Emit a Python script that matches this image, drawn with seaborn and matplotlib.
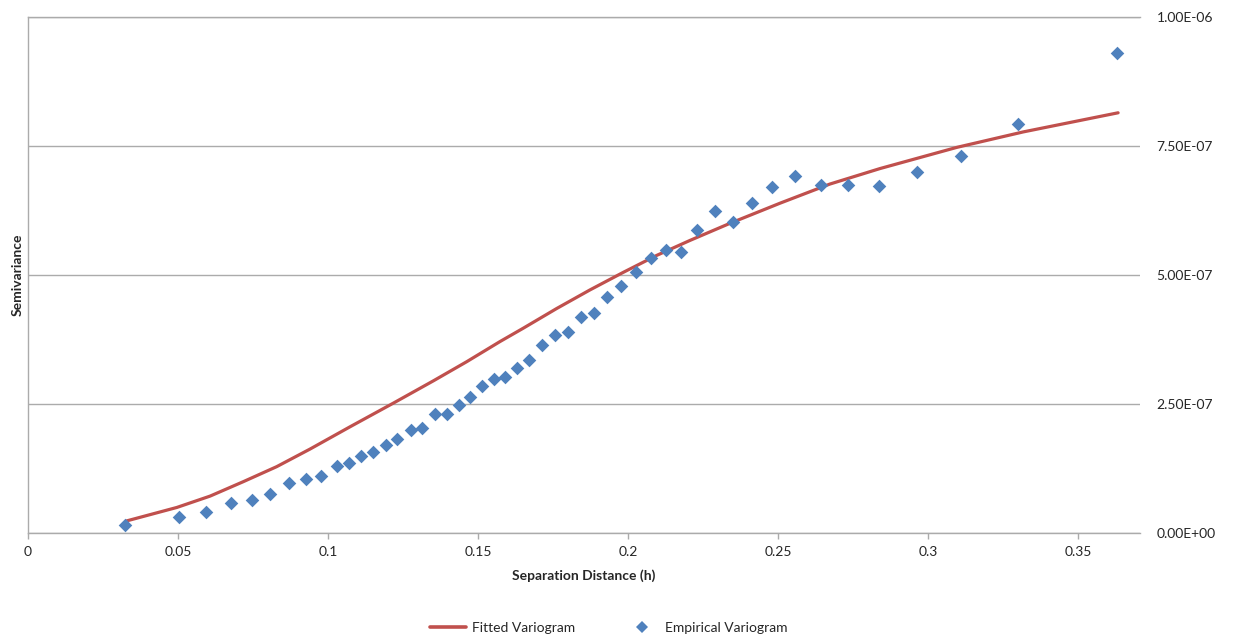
import matplotlib
matplotlib.use("Agg")
import matplotlib.pyplot as plt
import matplotlib.ticker as mticker
from matplotlib.lines import Line2D
import seaborn as sns
import pandas as pd

# Empirical variogram
emp_h = [0.0323, 0.0504, 0.0593, 0.0676, 0.0746, 0.0807, 0.0871, 0.0927, 0.0976, 0.1029,
         0.1070, 0.1109, 0.1149, 0.1192, 0.1229, 0.1276, 0.1313, 0.1356, 0.1398, 0.1436,
         0.1473, 0.1512, 0.1553, 0.1591, 0.1629, 0.1669, 0.1713, 0.1756, 0.1801, 0.1843,
         0.1887, 0.1930, 0.1978, 0.2026, 0.2078, 0.2126, 0.2177, 0.2229, 0.2290, 0.2351,
         0.2412, 0.2481, 0.2556, 0.2642, 0.2733, 0.2837, 0.2962, 0.3110, 0.3301, 0.3630]
emp_gamma = [1.6e-8, 3.1e-8, 4.2e-8, 5.9e-8, 6.4e-8, 7.7e-8, 9.7e-8, 1.05e-7, 1.11e-7, 1.30e-7,
             1.37e-7, 1.50e-7, 1.57e-7, 1.70e-7, 1.82e-7, 2.00e-7, 2.03e-7, 2.30e-7, 2.30e-7, 2.48e-7,
             2.63e-7, 2.86e-7, 2.99e-7, 3.03e-7, 3.20e-7, 3.35e-7, 3.64e-7, 3.84e-7, 3.89e-7, 4.19e-7,
             4.26e-7, 4.57e-7, 4.79e-7, 5.05e-7, 5.33e-7, 5.48e-7, 5.45e-7, 5.87e-7, 6.24e-7, 6.02e-7,
             6.40e-7, 6.70e-7, 6.92e-7, 6.74e-7, 6.75e-7, 6.72e-7, 6.99e-7, 7.30e-7, 7.93e-7, 9.29e-7]

# Fitted variogram
fit_h = [0.0329, 0.0496, 0.0607, 0.0718, 0.0829, 0.0940, 0.1073, 0.1218, 0.1351, 0.1462,
         0.1573, 0.1651, 0.1762, 0.1873, 0.1984, 0.2096, 0.2207, 0.2340, 0.2507, 0.2673,
         0.2840, 0.3096, 0.3318, 0.3540, 0.3634]
fit_gamma = [2.4e-8, 5.0e-8, 7.2e-8, 1.00e-7, 1.29e-7, 1.63e-7, 2.06e-7, 2.52e-7, 2.95e-7, 3.32e-7,
             3.71e-7, 3.97e-7, 4.35e-7, 4.71e-7, 5.05e-7, 5.38e-7, 5.67e-7, 6.00e-7, 6.39e-7, 6.76e-7,
             7.06e-7, 7.47e-7, 7.77e-7, 8.03e-7, 8.14e-7]

x_ticks = [0, 0.05, 0.1, 0.15, 0.2, 0.25, 0.3, 0.35]
x_ticklabels = ["0", "0.05", "0.1", "0.15", "0.2", "0.25", "0.3", "0.35"]
y_ticks = [0, 2.5e-7, 5e-7, 7.5e-7, 1e-6]

emp_df = pd.DataFrame({"h": emp_h, "gamma": emp_gamma})
fit_df = pd.DataFrame({"h": fit_h, "gamma": fit_gamma})

sns.set_theme(style="white")
plt.rcParams["font.family"] = ["Lato", "DejaVu Sans"]

BLUE = "#4F81BD"
RED = "#C0504D"
GRID = "#ABABAB"
TXT = "#262626"

fig = plt.figure(figsize=(12.33, 6.41), dpi=100)
ax = fig.add_axes([28 / 1233, 1 - 533.3 / 641, (1140 - 28) / 1233, (533.3 - 16.7) / 641])

sns.lineplot(data=fit_df, x="h", y="gamma", ax=ax, color=RED, linewidth=2.3,
             sort=False, estimator=None, zorder=3)
line = ax.get_lines()[-1]
line.set_solid_joinstyle("round")
line.set_solid_capstyle("round")
sns.scatterplot(data=emp_df, x="h", y="gamma", ax=ax, color=BLUE, marker="D",
                s=48, linewidth=0, zorder=4)

ax.set_xlim(0, 0.3707)
ax.set_ylim(0, 1e-6)
ax.set_xticks(x_ticks)
ax.set_xticklabels(x_ticklabels)
ax.set_yticks(y_ticks)
ax.yaxis.set_major_formatter(mticker.FuncFormatter(lambda v, p: f"{v:.2E}"))
ax.yaxis.tick_right()
ax.tick_params(axis="y", length=0, pad=12, labelsize=10, labelcolor=TXT)
ax.tick_params(axis="x", direction="out", length=4, width=1, color=GRID, pad=5,
               labelsize=10, labelcolor=TXT, bottom=True)

ax.grid(axis="y", color=GRID, linewidth=1)
ax.grid(axis="x", visible=False)
for side in ["left", "bottom", "top"]:
    ax.spines[side].set_visible(True)
    ax.spines[side].set_color(GRID)
    ax.spines[side].set_linewidth(1)
ax.spines["right"].set_visible(False)

ax.set_xlabel("Separation Distance (h)", fontsize=10, fontweight="bold", color=TXT, labelpad=8)
ax.set_ylabel("")
fig.text(18 / 1233, 1 - 275 / 641, "Semivariance", rotation=90, ha="center", va="center",
         fontsize=10, fontweight="bold", color=TXT)

handles = [Line2D([0], [0], color=RED, linewidth=2.6),
           Line2D([0], [0], color=BLUE, marker="D", linestyle="none", markersize=6.5,
                  markeredgewidth=0)]
fig.legend(handles, ["Fitted Variogram", "Empirical Variogram"], loc="center",
           bbox_to_anchor=(609 / 1233, 1 - 628 / 641), ncol=2, frameon=False,
           fontsize=10, handlelength=2.6, columnspacing=3.5, handletextpad=0.4,
           labelcolor=TXT)

fig.savefig("out.png", dpi=100)
